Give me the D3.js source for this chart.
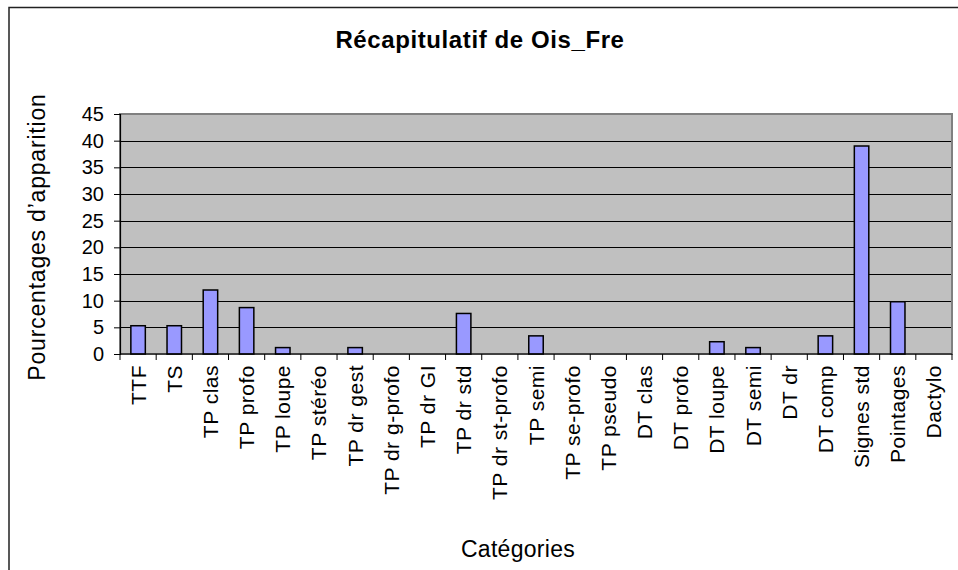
<!DOCTYPE html>
<html>
<head>
<meta charset="utf-8">
<script src="https://cdn.jsdelivr.net/npm/d3@7"></script>
<style>
  html, body { margin: 0; padding: 0; background: #fff; }
  svg { display: block; }
  text { font-family: "Liberation Sans", Arial, sans-serif; fill: #000; }
</style>
</head>
<body>
<svg id="chart" width="958" height="570"></svg>
<script>
// Chart data
const categories = [
  "TTF", "TS", "TP clas", "TP profo", "TP loupe", "TP stéréo", "TP dr gest",
  "TP dr g-profo", "TP dr GI", "TP dr std", "TP dr st-profo", "TP semi",
  "TP se-profo", "TP pseudo", "DT clas", "DT profo", "DT loupe", "DT semi",
  "DT dr", "DT comp", "Signes std", "Pointages", "Dactylo"
];
const values = [
  5.3, 5.3, 12.0, 8.7, 1.2, 0, 1.2,
  0, 0, 7.6, 0, 3.4,
  0, 0, 0, 0, 2.3, 1.2,
  0, 3.4, 39.0, 9.8, 0
];
const yTicks = [0, 5, 10, 15, 20, 25, 30, 35, 40, 45];
const title = "Récapitulatif de Ois_Fre";
const yTitle = "Pourcentages d’apparition";
const xTitle = "Catégories";

const svg = d3.select("#chart");

// Outer chart frame (continues past the right and bottom edges)
svg.append("rect")
  .attr("x", 9).attr("y", 7.5)
  .attr("width", 1000).attr("height", 600)
  .attr("fill", "#fff")
  .attr("stroke", "#222").attr("stroke-width", 1.5);

const plot = { left: 120, right: 952, top: 114, bottom: 354 };

const x = d3.scaleBand()
  .domain(categories)
  .range([plot.left, plot.right])
  .paddingInner(0).paddingOuter(0);

const y = d3.scaleLinear()
  .domain([0, 45])
  .range([plot.bottom, plot.top]);

// Plot background
svg.append("rect")
  .attr("x", plot.left).attr("y", plot.top)
  .attr("width", plot.right - plot.left)
  .attr("height", plot.bottom - plot.top)
  .attr("fill", "#c0c0c0");

// Horizontal gridlines
svg.append("g")
  .selectAll("line")
  .data(yTicks.filter(d => d > 0 && d < 45))
  .join("line")
  .attr("x1", plot.left).attr("x2", plot.right)
  .attr("y1", d => Math.round(y(d)) + 0.5)
  .attr("y2", d => Math.round(y(d)) + 0.5)
  .attr("stroke", "#000").attr("stroke-width", 1);

// Plot area border (gray)
svg.append("rect")
  .attr("x", plot.left).attr("y", plot.top)
  .attr("width", plot.right - plot.left)
  .attr("height", plot.bottom - plot.top)
  .attr("fill", "none")
  .attr("stroke", "#808080").attr("stroke-width", 2);

// Bars
const barW = x.bandwidth() / 2.5;
svg.append("g")
  .selectAll("rect")
  .data(categories.map((c, i) => ({ c, v: values[i] })).filter(d => d.v > 0))
  .join("rect")
  .attr("x", d => x(d.c) + (x.bandwidth() - barW) / 2)
  .attr("y", d => y(d.v))
  .attr("width", barW)
  .attr("height", d => y(0) - y(d.v))
  .attr("fill", "#9999ff")
  .attr("stroke", "#000").attr("stroke-width", 1.5);

// Y axis
const yAxis = d3.axisLeft(y)
  .tickValues(yTicks)
  .tickSize(6)
  .tickPadding(10)
  .tickFormat(d3.format("d"));
const gy = svg.append("g")
  .attr("transform", `translate(${plot.left},0)`)
  .call(yAxis);
gy.select(".domain").attr("stroke", "#000").attr("stroke-width", 1.2);
gy.selectAll(".tick line").attr("stroke", "#000");
gy.selectAll(".tick text")
  .style("font-family", "'Liberation Sans', Arial, sans-serif")
  .style("font-size", "20px")
  .attr("fill", "#000");

// X axis: category boundary ticks
const gx = svg.append("g");
gx.append("line")
  .attr("x1", plot.left).attr("x2", plot.right)
  .attr("y1", plot.bottom).attr("y2", plot.bottom)
  .attr("stroke", "#000").attr("stroke-width", 1.2);
gx.selectAll("line.tk")
  .data(categories.concat(["_end"]))
  .join("line")
  .attr("class", "tk")
  .attr("x1", (d, i) => i < categories.length ? x(d) : plot.right)
  .attr("x2", (d, i) => i < categories.length ? x(d) : plot.right)
  .attr("y1", plot.bottom).attr("y2", plot.bottom + 6)
  .attr("stroke", "#000");

// Category labels (rotated)
gx.selectAll("text")
  .data(categories)
  .join("text")
  .attr("transform", d => `translate(${x(d) + x.bandwidth() / 2},${plot.bottom + 11}) rotate(-90)`)
  .attr("text-anchor", "end")
  .attr("dominant-baseline", "central")
  .style("font-size", "21px")
  .style("letter-spacing", "0.5px")
  .text(d => d);

// Title
svg.append("text")
  .attr("x", 480).attr("y", 48)
  .attr("text-anchor", "middle")
  .style("font-size", "24px")
  .style("font-weight", "bold")
  .style("letter-spacing", "0.6px")
  .text(title);

// Y axis title
svg.append("text")
  .attr("transform", "translate(37,237) rotate(-90)")
  .attr("text-anchor", "middle")
  .attr("dominant-baseline", "central")
  .style("font-size", "23px")
  .style("letter-spacing", "0.8px")
  .text(yTitle);

// X axis title
svg.append("text")
  .attr("x", 518).attr("y", 557)
  .attr("text-anchor", "middle")
  .style("font-size", "23px")
  .style("letter-spacing", "0.3px")
  .text(xTitle);
</script>
</body>
</html>
